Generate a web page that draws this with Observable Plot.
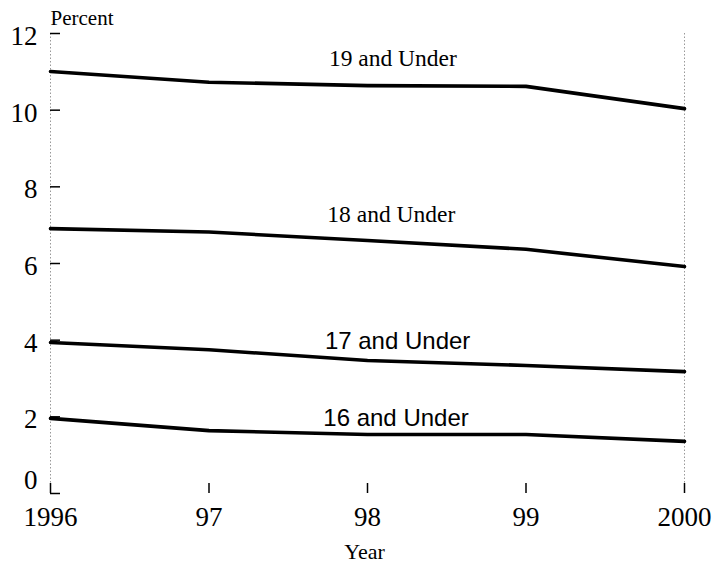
<!DOCTYPE html>
<html>
<head>
<meta charset="utf-8">
<script src="https://cdn.jsdelivr.net/npm/d3@7"></script>
<script src="https://cdn.jsdelivr.net/npm/@observablehq/plot@0.6"></script>
<style>
  html, body { margin: 0; padding: 0; background: #fff; }
</style>
</head>
<body>
<div id="chart"></div>
<script>
const years = [1996, 1997, 1998, 1999, 2000];
const yearLabels = ["1996", "97", "98", "99", "2000"];
const seriesNames = ["19 and Under", "18 and Under", "17 and Under", "16 and Under"];
const under19 = [11.01, 10.73, 10.64, 10.62, 10.04];
const under18 = [6.91, 6.82, 6.60, 6.37, 5.92];
const under17 = [3.94, 3.75, 3.47, 3.34, 3.18];
const under16 = [1.96, 1.64, 1.54, 1.54, 1.36];
const yTicks = [2, 4, 6, 8, 10, 12];
// label anchor points (data units)
const labelX = [1998.16, 1998.15, 1998.19, 1998.18];
const labelY = [11.14, 7.07, 3.78, 1.75];
const labelSans = [false, false, true, true];

const values = [under19, under18, under17, under16];
const data = [];
seriesNames.forEach((s, i) => years.forEach((yr, j) => data.push({series: s, year: yr, value: values[i][j]})));
const labels = seriesNames.map((s, i) => ({text: s, x: labelX[i], y: labelY[i], sans: labelSans[i]}));

const serif = "Liberation Serif";
const sans = "Liberation Sans";

const chart = Plot.plot({
  width: 715,
  height: 563,
  marginLeft: 50,
  marginRight: 31,
  marginTop: 33,
  marginBottom: 70,
  style: {fontFamily: serif, background: "#fff", color: "#000"},
  x: {domain: [1996, 2000]},
  y: {domain: [0, 12]},
  marks: [
    Plot.ruleX([1996, 2000], {y1: 0, y2: 12, stroke: "#999", strokeWidth: 1, strokeDasharray: "1.5,2"}),
    Plot.axisY([0, ...yTicks], {tickSize: -10, text: null, stroke: "#000", strokeWidth: 1.5}),
    Plot.axisY(yTicks, {tickSize: 0, tickPadding: 13, dy: 3, fontSize: 27, fontFamily: serif, label: null, fill: "#000"}),
    Plot.axisY([0], {tickSize: 0, tickPadding: 13, dy: -13, fontSize: 27, fontFamily: serif, label: null, fill: "#000"}),
    Plot.axisX(years, {tickSize: -10, text: null, stroke: "#000", strokeWidth: 1.5}),
    Plot.axisX(years, {tickSize: 0, tickPadding: 13, fontSize: 27, fontFamily: serif, label: null, fill: "#000",
      tickFormat: (d) => yearLabels[years.indexOf(d)]}),
    Plot.line(data, {x: "year", y: "value", z: "series", stroke: "#000", strokeWidth: 3.6}),
    Plot.text(labels.filter(d => !d.sans), {x: "x", y: "y", text: "text", lineAnchor: "bottom", fontSize: 23.5, fontFamily: serif, fill: "#000"}),
    Plot.text(labels.filter(d => d.sans), {x: "x", y: "y", text: "text", lineAnchor: "bottom", fontSize: 24, fontFamily: sans, fill: "#000"}),
    Plot.text(["Percent"], {frameAnchor: "top-left", textAnchor: "start", lineAnchor: "bottom", dy: -9, fontSize: 21, fontFamily: serif, fill: "#000"}),
    Plot.text(["Year"], {frameAnchor: "bottom", lineAnchor: "bottom", dy: 65, dx: -3, fontSize: 22, fontFamily: serif, fill: "#000"})
  ]
});
document.getElementById("chart").appendChild(chart);
</script>
</body>
</html>
